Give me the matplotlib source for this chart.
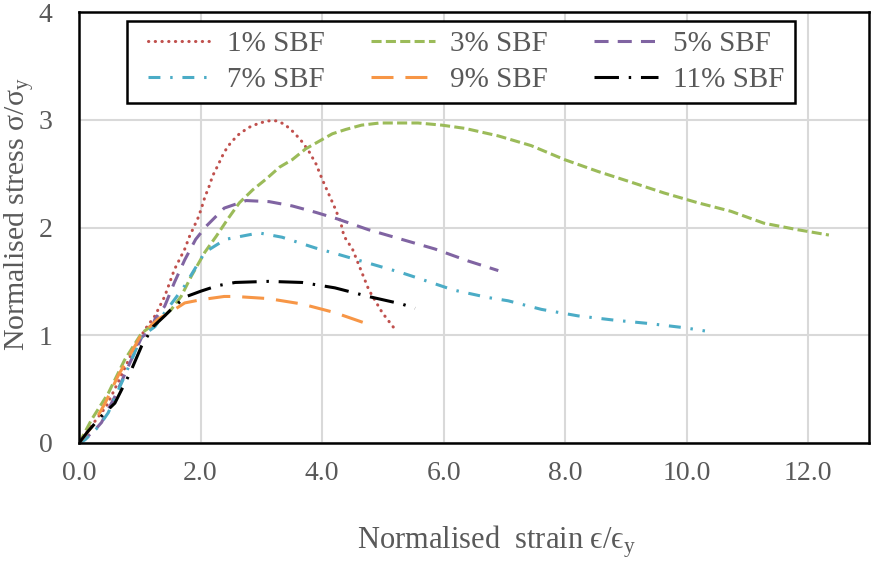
import matplotlib
matplotlib.use("Agg")
import matplotlib.pyplot as plt
from matplotlib.patches import Rectangle

# Normalised stress-strain curves for specimens with different SBF content
labels = ["1% SBF", "3% SBF", "5% SBF", "7% SBF", "9% SBF", "11% SBF"]

x1 = [0.0, 0.04, 0.26, 0.45, 0.64, 0.84, 1.08, 1.25, 1.41, 1.57, 1.74, 1.82, 1.87, 1.96, 2.01, 2.07,
      2.14, 2.20, 2.28, 2.39, 2.50, 2.64, 2.80, 2.97, 3.13, 3.24, 3.38, 3.54, 3.68, 3.79, 3.90, 4.00,
      4.11, 4.22, 4.31, 4.36, 4.50, 4.77, 4.99, 5.18]
y1 = [0.0, 0.03, 0.20, 0.34, 0.56, 0.80, 1.05, 1.18, 1.36, 1.61, 1.80, 1.92, 1.98, 2.09, 2.17, 2.28,
      2.38, 2.48, 2.57, 2.70, 2.79, 2.87, 2.93, 2.97, 2.99, 2.99, 2.96, 2.88, 2.79, 2.70, 2.59, 2.45,
      2.31, 2.17, 2.04, 1.92, 1.80, 1.42, 1.21, 1.07]

x3 = [0.0, 0.04, 0.21, 0.48, 0.75, 1.03, 1.30, 1.52, 1.68, 1.85, 2.07, 2.26, 2.45, 2.64, 2.86, 3.08,
      3.30, 3.51, 3.73, 3.95, 4.17, 4.39, 4.65, 4.95, 5.25, 5.58, 5.97, 6.35, 6.90, 7.44, 7.99, 8.54,
      9.09, 9.63, 10.18, 10.73, 11.27, 11.82, 12.34]
y3 = [0.0, 0.04, 0.22, 0.46, 0.77, 1.02, 1.13, 1.24, 1.36, 1.55, 1.77, 1.92, 2.08, 2.23, 2.35, 2.45,
      2.56, 2.63, 2.73, 2.80, 2.87, 2.91, 2.95, 2.97, 2.97, 2.97, 2.95, 2.92, 2.85, 2.76, 2.63, 2.52,
      2.42, 2.32, 2.23, 2.15, 2.04, 1.98, 1.93]

x5 = [0.0, 0.08, 0.26, 0.37, 0.59, 0.81, 1.03, 1.19, 1.25, 1.41, 1.57, 1.74, 1.92, 2.09, 2.39, 2.75,
      3.13, 3.51, 3.90, 4.25, 4.76, 5.31, 5.86, 6.40, 6.90]
y5 = [0.0, 0.03, 0.12, 0.19, 0.43, 0.71, 0.98, 1.05, 1.15, 1.27, 1.49, 1.70, 1.89, 2.01, 2.18, 2.25,
      2.24, 2.20, 2.14, 2.08, 1.98, 1.89, 1.80, 1.69, 1.60]

x7 = [0.0, 0.10, 0.32, 0.48, 0.75, 1.03, 1.25, 1.41, 1.57, 1.74, 1.90, 2.07, 2.41, 2.96, 3.34, 3.89,
      4.21, 4.76, 5.31, 5.58, 6.16, 6.73, 7.06, 7.61, 8.21, 8.81, 9.36, 9.96, 10.30]
y7 = [0.0, 0.03, 0.15, 0.28, 0.62, 0.99, 1.08, 1.21, 1.33, 1.46, 1.61, 1.77, 1.89, 1.95, 1.91, 1.81,
      1.76, 1.67, 1.58, 1.53, 1.42, 1.35, 1.32, 1.24, 1.18, 1.14, 1.11, 1.07, 1.04]

x9 = [0.0, 0.21, 0.43, 0.64, 0.86, 1.03, 1.30, 1.52, 1.74, 2.01, 2.39, 2.57, 3.12, 3.67, 4.21, 4.67]
y9 = [0.0, 0.15, 0.37, 0.62, 0.84, 1.01, 1.15, 1.22, 1.30, 1.33, 1.36, 1.36, 1.34, 1.29, 1.21, 1.12]

x11 = [0.0, 0.15, 0.37, 0.59, 0.84, 1.03, 1.22, 1.41, 1.57, 1.77, 2.01, 2.28, 2.57, 3.12, 3.67, 4.21,
       4.76, 5.31, 5.53]
y11 = [0.0, 0.11, 0.25, 0.37, 0.65, 0.90, 1.08, 1.18, 1.27, 1.36, 1.41, 1.46, 1.49, 1.50, 1.49, 1.44,
       1.36, 1.29, 1.25]

xs = [x1, x3, x5, x7, x9, x11]
ys = [y1, y3, y5, y7, y9, y11]

colors = ["#C0504D", "#9BBB59", "#8064A2", "#4BACC6", "#F79646", "#000000"]
styles = [(0, (0.1, 2.1)), (0, (3.3, 1.4)), (0, (4.6, 3.0)),
          (0, (3.9, 3.2, 0.8, 3.2)), (0, (7.2, 3.9)), (0, (8.0, 3.2, 0.8, 3.2))]
caps = ["round", "butt", "butt", "butt", "butt", "butt"]

x_ticks = [0, 2, 4, 6, 8, 10, 12]
x_tick_labels = ["0.0", "2.0", "4.0", "6.0", "8.0", "10.0", "12.0"]
y_ticks = [0, 1, 2, 3, 4]

serif = ["Liberation Serif", "DejaVu Serif"]
plt.rcParams["font.family"] = serif
plt.rcParams["mathtext.fontset"] = "custom"
plt.rcParams["mathtext.rm"] = "Liberation Serif"

W, H = 873, 562
fig = plt.figure(figsize=(W / 100, H / 100), dpi=100)
ax = fig.add_axes([79 / W, 1 - 443 / H, (869 - 79) / W, (443 - 12) / H])

lines = []
for x, y, c, ls, cap, lab in zip(xs, ys, colors, styles, caps, labels):
    ln, = ax.plot(x, y, color=c, linestyle=ls, linewidth=2.2, label=lab,
                  dash_capstyle=cap, solid_capstyle="butt")
    lines.append(ln)

ax.set_xlim(0, 13)
ax.set_ylim(0, 4)
ax.set_xticks(x_ticks)
ax.set_xticklabels(x_tick_labels)
ax.set_yticks(y_ticks)
ax.grid(True, color="#D9D9D9", linewidth=1.5)
ax.set_axisbelow(True)
ax.tick_params(length=0, labelsize=20, colors="#595959")
ax.tick_params(axis="x", pad=13)
ax.tick_params(axis="y", pad=19)
for s in ax.spines.values():
    s.set_color("black")
    s.set_linewidth(1.8)

fig.text(497 / W, 1 - 548 / H, "Normalised  strain \u03f5/\u03f5$\\mathregular{_y}$",
         fontsize=22, color="#595959", ha="center", va="baseline")
fig.text(19 / W, 1 - 214 / H, "Normalised stress \u03c3/\u03c3$\\mathregular{_y}$",
         fontsize=21.5, color="#595959", ha="center", va="center", rotation=90)

# legend frame box, drawn under the legend entries
box = Rectangle((127 / W, 1 - 103 / H), (795 - 127) / W, (103 - 21) / H,
                transform=fig.transFigure, facecolor="white", edgecolor="black",
                linewidth=1.8, zorder=4, clip_on=False)
ax.add_patch(box)

# legend laid out row by row: 1,3,5 on top and 7,9,11 below
order = [0, 3, 1, 4, 2, 5]
leg = ax.legend([lines[i] for i in order], [labels[i] for i in order], ncol=3,
                loc="center", bbox_to_anchor=(466 / W, 1 - 62 / H),
                bbox_transform=fig.transFigure, fontsize=21, frameon=False,
                handlelength=2.2, columnspacing=1.6, handletextpad=0.5,
                borderpad=0.0, labelspacing=0.31)
leg.set_zorder(5)
for t in leg.get_texts():
    t.set_color("#595959")

fig.savefig("out.png", dpi=100)
